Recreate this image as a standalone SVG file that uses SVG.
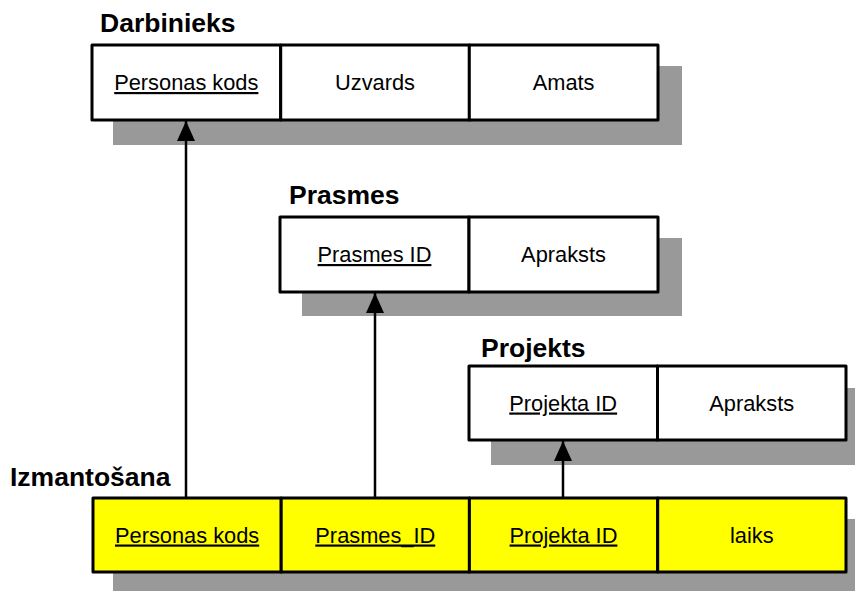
<svg xmlns="http://www.w3.org/2000/svg" width="855" height="591" viewBox="0 0 855 591">
<style>
.shadow{fill:#999999}
.cell{fill:#ffffff;stroke:#000000;stroke-width:3;stroke-linejoin:round}
.ycell{fill:#ffff00;stroke:#000000;stroke-width:3;stroke-linejoin:round}
.title{font-family:"Liberation Sans",Arial,sans-serif;font-weight:bold;font-size:26.5px;fill:#000}
.txt{font-family:"Liberation Sans",Arial,sans-serif;font-size:21.8px;fill:#000;text-anchor:middle}
.key{text-decoration:underline}
.conn{stroke:#000;stroke-width:2.5;fill:none}
</style>
<defs>
<marker id="arr" markerUnits="userSpaceOnUse" markerWidth="20" markerHeight="22" refX="20" refY="9" orient="auto">
<path d="M0,0 L20,9 L0,18 Z" fill="#000"/>
</marker>
</defs>
<g id="Darbinieks">
<rect class="shadow" x="113" y="66" width="569" height="79"/>
<rect class="cell" x="92" y="45" width="188.7" height="75"/>
<rect class="cell" x="280.7" y="45" width="188.7" height="75"/>
<rect class="cell" x="469.3" y="45" width="188.7" height="75"/>
<text class="title" x="100" y="32">Darbinieks</text>
<text class="txt key" x="186.3" y="90">Personas kods</text>
<text class="txt" x="375" y="90">Uzvards</text>
<text class="txt" x="563.6" y="90">Amats</text>
</g>
<g id="Prasmes">
<rect class="shadow" x="302" y="238" width="380" height="78"/>
<rect class="cell" x="280" y="217" width="189" height="75"/>
<rect class="cell" x="469" y="217" width="189" height="75"/>
<text class="title" x="289" y="204">Prasmes</text>
<text class="txt key" x="374.5" y="262">Prasmes ID</text>
<text class="txt" x="563.5" y="262">Apraksts</text>
</g>
<g id="Projekts">
<rect class="shadow" x="491" y="388" width="380" height="77"/>
<rect class="cell" x="469" y="366" width="188.5" height="74"/>
<rect class="cell" x="657.5" y="366" width="188.5" height="74"/>
<text class="title" x="481" y="357">Projekts</text>
<text class="txt key" x="563.2" y="410.5">Projekta ID</text>
<text class="txt" x="751.7" y="410.5">Apraksts</text>
</g>
<g id="Izmantosana">
<rect class="shadow" x="113" y="519" width="760" height="80"/>
<rect class="ycell" x="93" y="498" width="188.2" height="74"/>
<rect class="ycell" x="281.2" y="498" width="188.2" height="74"/>
<rect class="ycell" x="469.4" y="498" width="188.3" height="74"/>
<rect class="ycell" x="657.7" y="498" width="188.3" height="74"/>
<text class="title" x="10" y="486">Izmantošana</text>
<text class="txt key" x="187.1" y="542.5">Personas kods</text>
<text class="txt key" x="375.3" y="542.5">Prasmes_ID</text>
<text class="txt key" x="563.5" y="542.5">Projekta ID</text>
<text class="txt" x="751.8" y="542.5">laiks</text>
</g>
<g id="connectors">
<line class="conn" x1="186" y1="497" x2="186" y2="121" marker-end="url(#arr)"/>
<line class="conn" x1="375" y1="497" x2="375" y2="293" marker-end="url(#arr)"/>
<line class="conn" x1="563" y1="497" x2="563" y2="441" marker-end="url(#arr)"/>
</g>
</svg>
